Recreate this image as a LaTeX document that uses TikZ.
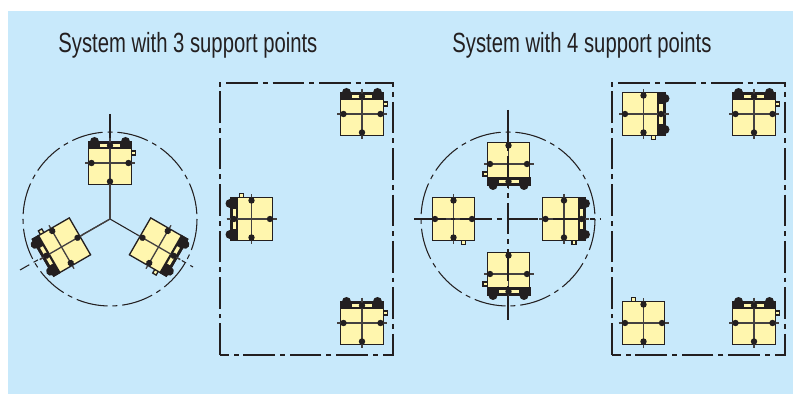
\documentclass[tikz,border=0pt]{standalone}
\usepackage{fontspec}
\setmainfont[FakeStretch=0.73]{Liberation Sans}
\usetikzlibrary{calc}
\definecolor{himmel}{HTML}{C8E9FB}
\definecolor{gelb}{HTML}{FFF6AE}
\definecolor{dunkel}{HTML}{231F20}
\newcommand{\basisteile}{
	\draw[kontur] (21,-12) rectangle (25.5,-8);
	\draw[kontur] (-21.3,-21.3) rectangle (21.3,21.3);
	\draw[kreuz] (-25,0) -- (25,0);
	\draw[kreuz] (0,-25) -- (0,25);
	\foreach \p in {(0,-18.5),(0,18.5),(-18.5,0),(18.5,0)}
		\fill[punkt] \p circle (3.2);
	\coordinate (-fuss) at (0,21.3);
}
\tikzset{
titel/.style={anchor=base west,inner sep=0pt,text=dunkel,font=\fontsize{15.8}{18}\selectfont},
kontur/.style={draw=dunkel,line width=0.75pt,fill=gelb},
kreuz/.style={draw=dunkel!85,line width=0.75pt},
mitte/.style={draw=dunkel,line width=0.6pt,dash pattern=on 18pt off 2.8pt on 2.8pt off 2.8pt},
punkt/.style={fill=dunkel},
pics/basis/.style={code={\basisteile}},
pics/lager/.style={code={
	\basisteile
	\fill[punkt] (-22,-22) rectangle (22,-13.5);
	\fill[punkt] (-15.5,-21.5) circle (4.5) (15.5,-21.5) circle (4.5);
	\fill[gelb] (-10,-19) rectangle (10,-15.8);
	\draw[kreuz] (0,-25) -- (0,-13.5);
	\fill[punkt] (0,-17.5) circle (3.2);
}}}
\begin{document}
\begin{tikzpicture}[x=0.02cm,y=-0.02cm]
\useasboundingbox (0,0) rectangle (793,394);
\fill[himmel] (8,11) rectangle (793,394);

\node[titel] (t3) at (58,53) {System with 3 support points};
\node[titel] (t4) at (452,53) {System with 4 support points};

% 3 support points
\coordinate (c3) at (110,219);
\coordinate (e1) at (110,114);
\coordinate (e2) at (20,270);
\coordinate (e3) at (193,267);
\draw[mitte] (c3) circle (87);
\draw[mitte] (e1) -- (110,142);
\draw[mitte] (c3) -- (e2);
\draw[mitte] (c3) -- (e3);
\pic (a1) at (110,163) {lager};
\pic[rotate=120] (a2) at (61.5,247) {lager};
\pic[rotate=-120] (a3) at (158.5,247) {lager};
\draw[kreuz] (a1-fuss) -- (c3);
\draw[kreuz] (a2-fuss) -- (c3);
\draw[mitte] (220,355) -- (220,83) -- (393,83) -- (393,355) -- cycle;
\pic (b1) at (362,114) {lager};
\pic (b2) at (362,323) {lager};
\pic[rotate=90] (b3) at (251.5,219) {lager};

% 4 support points
\coordinate (c4) at (508,219);
\draw[mitte] (c4) circle (87);
\pic[rotate=180] (d1) at (508.5,164) {lager};
\pic[rotate=180] (d2) at (508.5,274) {lager};
\pic[rotate=-90] (d3) at (453.5,219) {basis};
\pic[rotate=-90] (d4) at (564,219) {lager};
\draw[mitte] (414,219) -- (601,219);
\draw[mitte] (508,110) -- (508,320);
\draw[mitte] (612,355) -- (612,83) -- (785,83) -- (785,355) -- cycle;
\pic[rotate=-90] (f1) at (643.5,114) {lager};
\pic (f2) at (754,114) {lager};
\pic[rotate=90] (f3) at (643.5,323) {basis};
\pic (f4) at (754,323) {lager};
\end{tikzpicture}
\end{document}
